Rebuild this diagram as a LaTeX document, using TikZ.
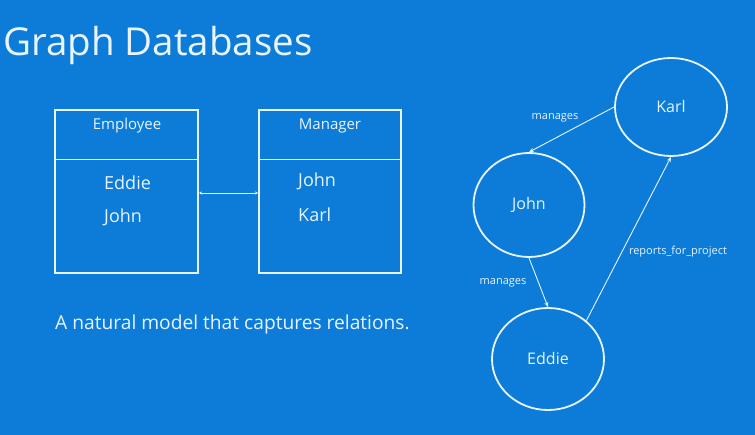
\documentclass[tikz,border=0pt]{standalone}
\usepackage{fontspec}
\setmainfont{Open Sans}
\usetikzlibrary{shapes.geometric,arrows.meta}
\definecolor{bg}{RGB}{12,124,216}
\definecolor{fg}{RGB}{232,244,255}
\tikzset{
  every node/.style={text=fg, inner sep=0pt},
  boxline/.style={draw=fg, line width=2pt},
  gnode/.style={ellipse, draw=fg, line width=1.8pt, font=\fontsize{16}{18}\selectfont},
  edge/.style={draw=fg, line width=0.9pt, -{Stealth[length=5pt,width=4pt]}},
  elabel/.style={font=\fontsize{11}{13}\selectfont},
  cell/.style={font=\fontsize{18}{20}\selectfont, anchor=base west},
  head/.style={font=\fontsize{15}{17}\selectfont, anchor=base},
}
\begin{document}
\begin{tikzpicture}[x=1pt,y=-1pt]
\fill[bg] (0,0) rectangle (755,435);
\useasboundingbox (0,0) rectangle (755,435);
% title
\node[anchor=base west, font=\fontsize{38.5}{42}\selectfont] (title) at (3,56) {Graph Databases};
% Employee table
\draw[boxline] (55,110) rectangle (198,273);
\draw[fg, line width=1pt] (55,160) -- (198,160);
\node[head] (emph) at (127,130) {Employee};
\node[cell] (e1) at (104,190) {Eddie};
\node[cell] (e2) at (104,223) {John};
% Manager table
\draw[boxline] (259,110) rectangle (401,273);
\draw[fg, line width=1pt] (259,160) -- (401,160);
\node[head] (mgrh) at (330,130) {Manager};
\node[cell] (m1) at (298,187) {John};
\node[cell] (m2) at (298,222) {Karl};
\coordinate (la) at (199,193);
\coordinate (ra) at (258,193);
\draw[fg, line width=0.9pt, {Stealth[length=3pt,width=3pt]}-{Stealth[length=3pt,width=3pt]}] (la) -- (ra);
% sentence
\node[anchor=base west, font=\fontsize{19.2}{22}\selectfont] (sent) at (55,330) {A natural model that captures relations.};
% graph
\node[gnode, minimum width=112pt, minimum height=98pt] (karl) at (671,107) {Karl};
\node[gnode, minimum width=111pt, minimum height=104pt] (john) at (529,205) {John};
\node[gnode, minimum width=112pt, minimum height=102pt] (eddie) at (548,359) {Eddie};
\draw[edge] (karl.west) -- (john.north);
\draw[edge] (john.south) -- (eddie.north);
\draw[edge] (eddie.45) -- (karl.south);
\node[elabel] (l1) at (555,118) {manages};
\node[elabel] (l2) at (503,283) {manages};
\node[elabel] (l3) at (678,252) {reports\_for\_project};
\end{tikzpicture}
\end{document}
